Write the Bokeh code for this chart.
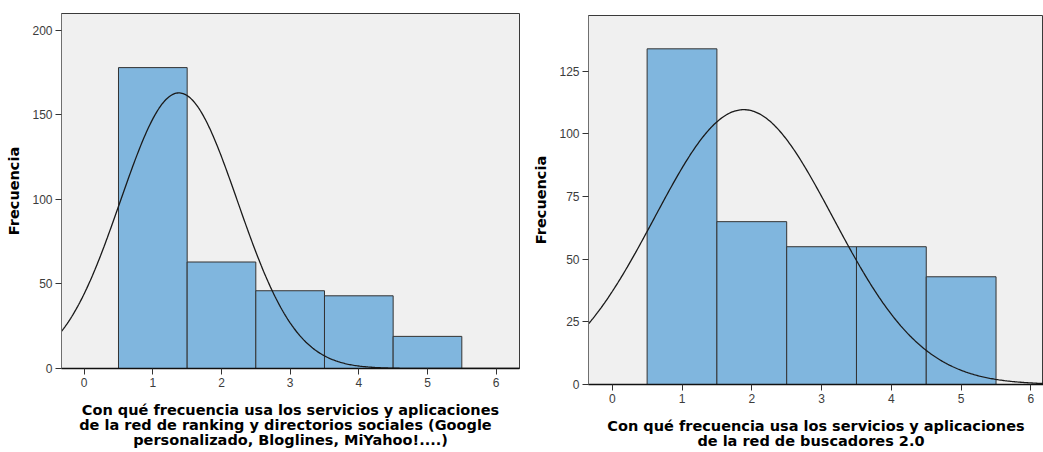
import numpy as np
from bokeh.plotting import figure
from bokeh.layouts import row, column
from bokeh.models import FixedTicker, Range1d
from bokeh.embed import file_html
from bokeh.resources import INLINE

# ---- data ----
categories = [1, 2, 3, 4, 5]
freq_left = [178, 63, 46, 43, 19]
freq_right = [134, 65, 55, 55, 43]

# normal curve parameters (as drawn by SPSS)
mean_left, sd_left = 1.38, 0.854
mean_right, sd_right = 1.885, 1.28

x_ticks = [0, 1, 2, 3, 4, 5, 6]
y_ticks_left = [0, 50, 100, 150, 200]
y_ticks_right = [0, 25, 50, 75, 100, 125]

title_left = ("Con qué frecuencia usa los servicios y aplicaciones\n"
              "de la  red  de ranking y directorios sociales (Google\n"
              "personalizado, Bloglines, MiYahoo!....)")
title_right = ("Con qué frecuencia usa los servicios y aplicaciones\n"
               "de la  red  de buscadores 2.0")
y_title = "Frecuencia"

TICK_FONT = "Liberation Sans"
TITLE_FONT = "DejaVu Sans"
BAR_FILL = "#80b6de"
BAR_LINE = "#333333"
BG = "#f0f0f0"


def make_fig(freq, mean, sd, yticks, xr, yr, width, height, bl, bt, br, bb, xtitle):
    p = figure(width=width, height=height, output_backend="svg", toolbar_location=None,
               x_range=Range1d(*xr), y_range=Range1d(*yr),
               min_border_left=bl, min_border_top=bt, min_border_right=br,
               min_border_bottom=bb, background_fill_color=BG,
               border_fill_color="white")
    p.grid.visible = False
    p.outline_line_color = "#3a3a3a"
    p.outline_line_width = 1

    cats = np.array(categories, dtype=float)
    p.quad(left=cats - 0.5, right=cats + 0.5, bottom=0, top=freq,
           fill_color=BAR_FILL, line_color=BAR_LINE, line_width=1)

    n = sum(freq)
    xs = np.linspace(xr[0], xr[1], 400)
    ys = n * 1.0 / (sd * np.sqrt(2 * np.pi)) * np.exp(-((xs - mean) ** 2) / (2 * sd ** 2))
    p.line(xs, ys, line_color="#1a1a1a", line_width=1.3)

    p.xaxis.ticker = FixedTicker(ticks=x_ticks)
    p.yaxis.ticker = FixedTicker(ticks=yticks)
    for ax in (p.xaxis[0], p.yaxis[0]):
        ax.major_tick_out = 6
        ax.major_tick_in = 0
        ax.minor_tick_out = 0
        ax.minor_tick_in = 0
        ax.major_tick_line_color = "#333333"
        ax.major_label_text_font = TICK_FONT
        ax.major_label_text_font_size = "12px"
        ax.major_label_text_color = "#3c3c3c"
        ax.axis_label_text_font = TITLE_FONT
        ax.axis_label_text_font_style = "bold"
        ax.axis_label_text_color = "#000000"
    p.xaxis.axis_line_color = "#111111"
    p.xaxis.axis_line_width = 1.5
    p.yaxis.axis_line_color = "#6f6f6f"
    p.xaxis.major_label_standoff = 3
    p.yaxis.major_label_standoff = 3

    p.yaxis.axis_label = y_title
    p.yaxis.axis_label_text_font_size = "14.5px"
    p.yaxis.axis_label_standoff = 7

    p.xaxis.axis_label = xtitle
    p.xaxis.axis_label_text_font_size = "14.5px"
    p.xaxis.axis_label_text_line_height = 0.95
    p.xaxis.axis_label_standoff = 12
    return p


p1 = make_fig(freq_left, mean_left, sd_left, y_ticks_left, (-0.33, 6.34), (0, 210),
              width=530, height=452, bl=61, bt=13, br=11, bb=84, xtitle=title_left)
p2 = make_fig(freq_right, mean_right, sd_right, y_ticks_right, (-0.34, 6.18), (0, 147.3),
              width=513, height=452, bl=53, bt=15, br=0, bb=68, xtitle=title_right)

layout = row(column(p1), column(p2))
open("out.html", "w").write(file_html(layout, INLINE))
